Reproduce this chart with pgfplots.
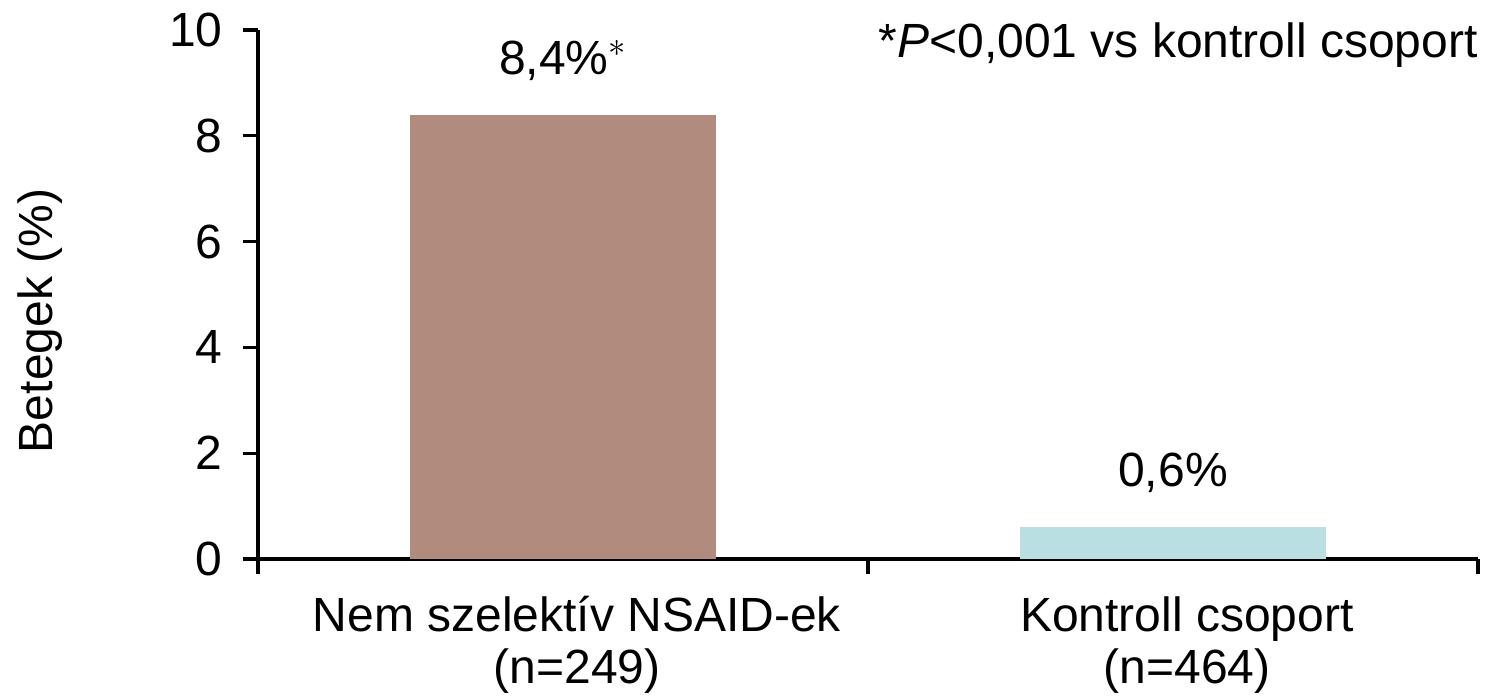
\documentclass[border=0pt]{standalone}
\usepackage{pgfplots}
\pgfplotsset{compat=1.18}
\usepackage{fontspec}
\setmainfont{Liberation Sans}
\definecolor{barbrown}{HTML}{B08B7E}
\definecolor{barblue}{HTML}{B9DFE3}
\newcommand{\bigf}{\fontsize{24pt}{26pt}\selectfont}
\begin{document}
\bigf
\begin{tikzpicture}
\useasboundingbox (-129pt,-69pt) rectangle (614pt,279.5pt);
\begin{axis}[
  anchor=south west, at={(0,0)},
  scale only axis, width=610pt, height=264.5pt,
  xmin=-0.5, xmax=1.5, ymin=0, ymax=10,
  axis x line*=bottom, axis y line*=left,
  axis line style={line width=1.6pt, -},
  every tick/.style={line width=1.6pt, black},
  tick align=outside,
  xtick={0,1}, xticklabels={{Nem szelektív NSAID-ek\\(n=249)},{Kontroll csoport\\(n=464)}},
  xticklabel style={align=center, font=\bigf, yshift=-3pt, xshift=7pt},
  minor xtick={-0.5,0.5,1.5},
  major x tick style={draw=none},
  minor tick length=7.5pt, major tick length=7.5pt,
  ytick={0,2,4,6,8,10},
  yticklabel style={font=\bigf, xshift=-2pt},
  /pgf/number format/assume math mode=true,
  ybar, bar width=153pt,
  nodes near coords,
  point meta=explicit symbolic,
  every node near coord/.append style={font=\bigf, yshift=9pt, black},
  clip=false,
]
\addplot[fill=barbrown, draw=none, bar shift=0pt] coordinates {(0,8.4) [{8,4\%$^{*}$}]};
\addplot[fill=barblue, draw=none, bar shift=0pt] coordinates {(1,0.6) [{0,6\%}]};
\node[anchor=east, inner sep=0pt] at (axis cs:1.5,9.72) {*\textit{P}<0,001 vs kontroll csoport};
\node[rotate=90, anchor=center, font=\bigf] at ([xshift=-109pt]rel axis cs:0,0.45) {Betegek (\%)};
\end{axis}
\end{tikzpicture}
\end{document}
